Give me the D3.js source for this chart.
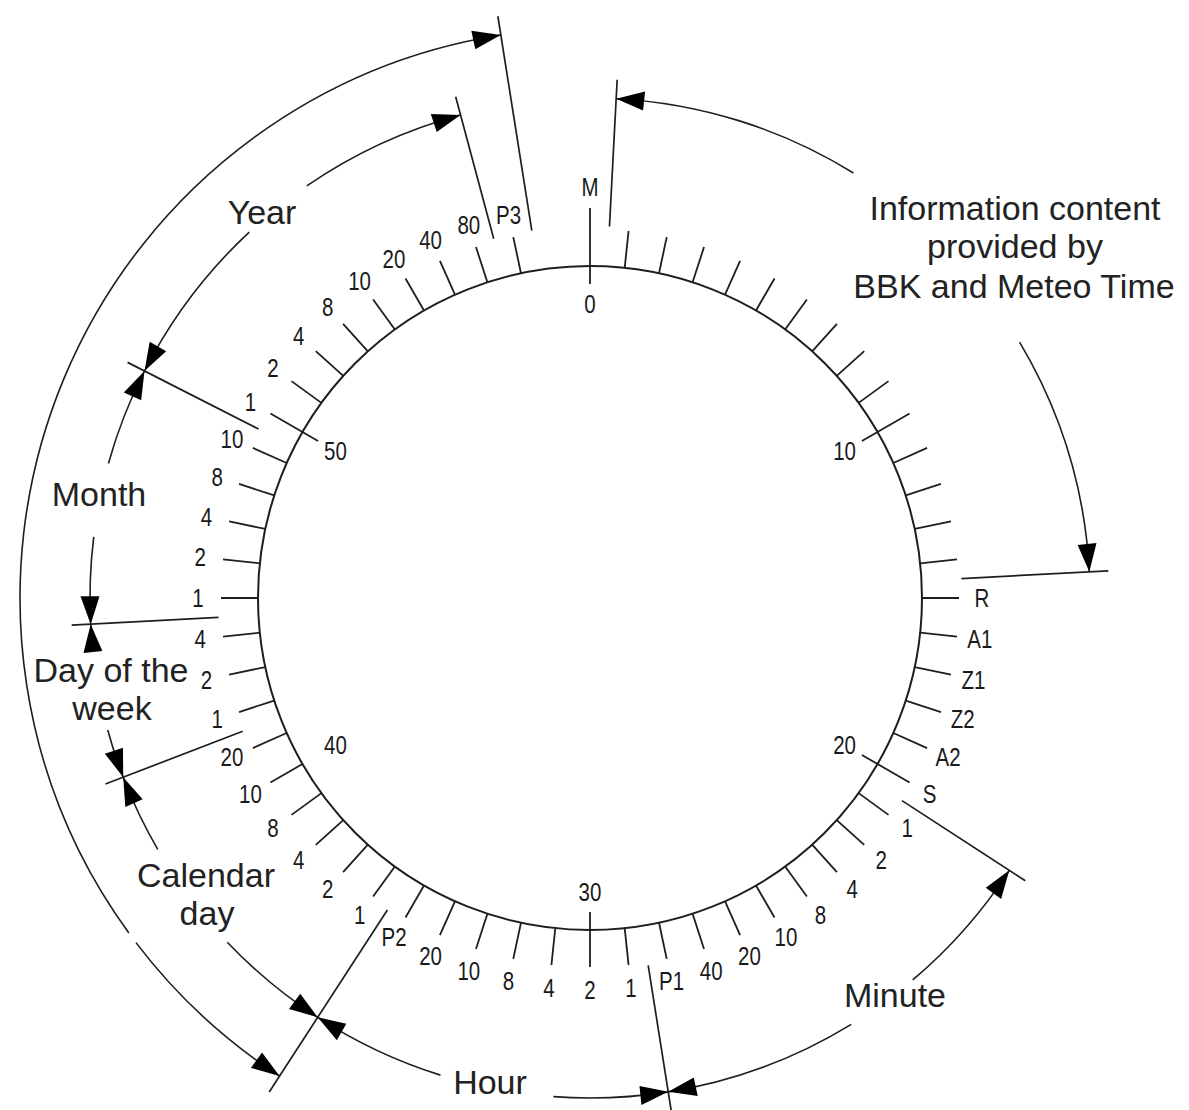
<!DOCTYPE html>
<html>
<head>
<meta charset="utf-8">
<script src="https://cdn.jsdelivr.net/npm/d3@7"></script>
<style>
  html, body { margin: 0; padding: 0; background: #fff; }
  svg { display: block; }
  .tick-label { font-family: "Liberation Sans", Arial, sans-serif; font-size: 25px; fill: #1a1a1a; }
  .note { font-family: "Liberation Sans", Arial, sans-serif; font-size: 34px; fill: #222; }
</style>
</head>
<body>
<svg id="chart" width="1189" height="1110"></svg>
<script>
// ---------------- DATA ----------------
// Second marks 0..58 (second 59 carries no pulse)
const seconds = d3.range(0, 59);
// Label printed outside the dial for each second
const tickLabels = ["M","","","","","","","","","","","","","","",
  "R","A1","Z1","Z2","A2","S",
  "1","2","4","8","10","20","40","P1",
  "1","2","4","8","10","20","P2",
  "1","2","4","8","10","20",
  "1","2","4",
  "1","2","4","8","10",
  "1","2","4","8","10","20","40","80","P3"];
// Seconds numbered inside the dial
const innerSeconds = [0, 10, 20, 30, 40, 50];
const innerLabels = ["0", "10", "20", "30", "40", "50"];
// Ticks that cross the dial towards the inner numbers
const crossingTicks = [0, 10, 20, 30, 50];
// Field boundaries (second positions) and their extended ones
const boundaries = [0.5, 14.5, 20.5, 28.5, 35.5, 41.5, 44.5, 49.5, 57.5, 58.5];
const longBoundaries = [35.5, 58.5];
// Field spans shown by dimension arcs: [from second, to second]
const fieldNames = ["info", "minute", "hour", "calendar", "dow", "month", "year", "date"];
const fieldFrom  = [0.5, 20.5, 28.5, 35.5, 41.5, 44.5, 49.5, 35.5];
const fieldTo    = [14.5, 28.5, 35.5, 41.5, 44.5, 49.5, 57.5, 58.5];
// Openings left in each arc for its caption (in seconds)
const fieldGaps  = [[5.3, 9.87], [23.3, 24.75], [30.7, 32.9], [37.75, 39.97],
                    [42.45, 44.0], [46.17, 47.6], [52.84, 54.25], [38.8, 39.0]];
// Captions
const captionLines = ["Information content", "provided by", "BBK and Meteo Time",
  "Year", "Month", "Day of the", "week", "Calendar", "day", "Minute", "Hour"];

// ---------------- LAYOUT ----------------
const CX = 590, CY = 598, R = 332;
const layout = {
  tickOuter: 369, zeroTickOuter: 390, crossInner: 314,
  labelR: 392, mLabelR: 411, innerLabelR: 294,
  boundaryInner: 372, boundaryOuter: 519, boundaryLongOuter: 589,
  arcR: 500, dateArcR: 570,
  arrowLen: 28, arrowHalf: 9.5,
  labelSqueeze: 0.82,
  captions: [
    [1015, 220], [1015, 258], [1014, 298],
    [262, 224], [99, 506], [111, 682], [112, 720],
    [206, 887], [207, 925], [895, 1007], [490, 1094]
  ]
};
const ink = "#1e1e1e";

const svg = d3.select("#chart");
svg.append("rect").attr("width", 1189).attr("height", 1110).attr("fill", "#fff");

const ang = d3.scaleLinear().domain([0, 60]).range([0, 2 * Math.PI]);
const pt = (s, r) => { const a = ang(s); return [CX + r * Math.sin(a), CY - r * Math.cos(a)]; };

// dial circle
svg.append("circle").attr("cx", CX).attr("cy", CY).attr("r", R)
  .attr("fill", "none").attr("stroke", ink).attr("stroke-width", 2);

// ticks
svg.append("g").selectAll("line").data(seconds).join("line")
  .each(function(s) {
    const r0 = crossingTicks.includes(s) ? layout.crossInner : R;
    const r1 = s === 0 ? layout.zeroTickOuter : layout.tickOuter;
    const [x0, y0] = pt(s, r0), [x1, y1] = pt(s, r1);
    d3.select(this).attr("x1", x0).attr("y1", y0).attr("x2", x1).attr("y2", y1);
  })
  .attr("stroke", ink).attr("stroke-width", 1.8);

// outer labels (narrow, tall lettering)
svg.append("g").selectAll("text").data(seconds.filter(s => tickLabels[s] !== "")).join("text")
  .attr("class", "tick-label")
  .attr("transform", s => {
    const [x, y] = pt(s, s === 0 ? layout.mLabelR : layout.labelR);
    return `translate(${x},${y}) scale(${layout.labelSqueeze},1)`;
  })
  .attr("text-anchor", "middle").attr("dy", "0.36em")
  .text(s => tickLabels[s]);

// inner labels
svg.append("g").selectAll("text").data(innerSeconds).join("text")
  .attr("class", "tick-label")
  .attr("transform", s => {
    const [x, y] = pt(s, layout.innerLabelR);
    return `translate(${x},${y}) scale(${layout.labelSqueeze},1)`;
  })
  .attr("text-anchor", "middle").attr("dy", "0.36em")
  .text((s, i) => innerLabels[i]);

// boundary lines
svg.append("g").selectAll("line").data(boundaries).join("line")
  .each(function(s) {
    const r1 = longBoundaries.includes(s) ? layout.boundaryLongOuter : layout.boundaryOuter;
    const [x0, y0] = pt(s, layout.boundaryInner), [x1, y1] = pt(s, r1);
    d3.select(this).attr("x1", x0).attr("y1", y0).attr("x2", x1).attr("y2", y1);
  })
  .attr("stroke", ink).attr("stroke-width", 1.7);

// dimension arcs
function arcPath(r, s0, s1) {
  const p = d3.path();
  const a0 = ang(s0) - Math.PI / 2, a1 = ang(s1) - Math.PI / 2;
  const [x0, y0] = pt(s0, r);
  p.moveTo(x0, y0);
  p.arc(CX, CY, r, a0, a1, false);
  return p.toString();
}
function arrowPath(r, sTip, dir) {
  const ds = layout.arrowLen / (r * 2 * Math.PI / 60);
  const tip = pt(sTip, r);
  const sb = sTip - dir * ds;
  const b = pt(sb, r);
  const a = ang(sb);
  const ux = Math.sin(a), uy = -Math.cos(a);
  const h = layout.arrowHalf;
  return `M${tip[0]},${tip[1]}L${b[0] + ux * h},${b[1] + uy * h}L${b[0] - ux * h},${b[1] - uy * h}Z`;
}
const fields = fieldNames.map((n, i) => ({
  name: n, from: fieldFrom[i], to: fieldTo[i], gap: fieldGaps[i],
  r: n === "date" ? layout.dateArcR : layout.arcR
}));
const gArcs = svg.append("g");
fields.forEach(f => {
  const segs = [[f.from, f.gap[0]], [f.gap[1], f.to]];
  segs.forEach(([a, b]) => {
    gArcs.append("path").attr("d", arcPath(f.r, a, b))
      .attr("fill", "none").attr("stroke", ink).attr("stroke-width", 1.6);
  });
  gArcs.append("path").attr("d", arrowPath(f.r, f.from, -1)).attr("fill", "#000");
  gArcs.append("path").attr("d", arrowPath(f.r, f.to, 1)).attr("fill", "#000");
});

// captions
svg.append("g").selectAll("text").data(captionLines).join("text")
  .attr("class", "note")
  .attr("x", (d, i) => layout.captions[i][0])
  .attr("y", (d, i) => layout.captions[i][1])
  .attr("text-anchor", "middle")
  .text(d => d);
</script>
</body>
</html>
